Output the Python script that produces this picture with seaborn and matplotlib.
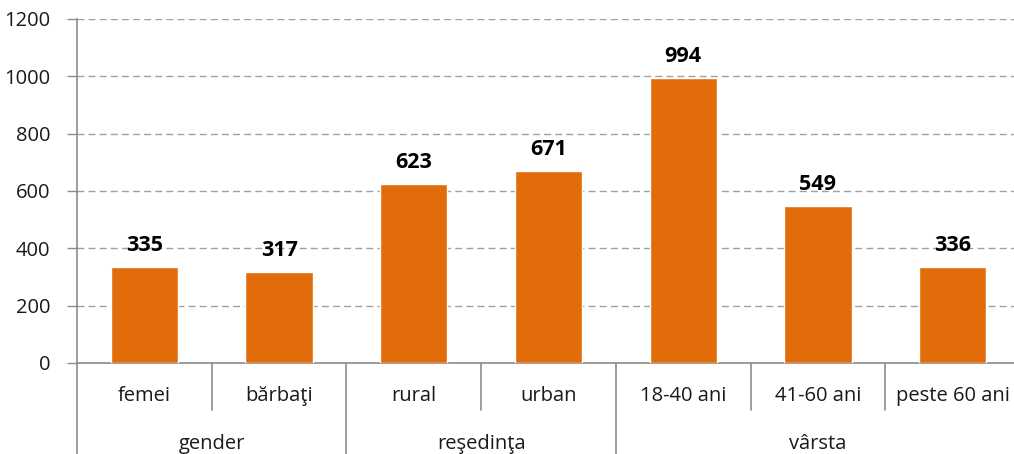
import matplotlib
matplotlib.use("Agg")
import matplotlib.pyplot as plt
import seaborn as sns

################ DATA ################
categories = ["femei", "bărbaţi", "rural", "urban", "18-40 ani", "41-60 ani", "peste 60 ani"]
values = [335, 317, 623, 671, 994, 549, 336]
groups = ["gender", "reşedinţa", "vârsta"]
group_sizes = [2, 2, 3]
y_ticks = [0, 200, 400, 600, 800, 1000, 1200]

################ STYLE ################
sns.set_style("white")
plt.rcParams['font.family'] = ['Open Sans', 'DejaVu Sans']

bar_color = "#E36C0A"
axis_gray = "#8C8C8C"
W, H = 1014, 454

fig = plt.figure(figsize=(W / 100, H / 100), dpi=100)
# plot area in pixels: x 77..1020, y 19..363
ax_h_px = 363 - 19
ax = fig.add_axes([77 / W, (H - 363) / H, 943 / W, ax_h_px / H])

sns.barplot(x=categories, y=values, color=bar_color, width=0.5,
            saturation=1, ax=ax, zorder=3)

ax.set_xlim(-0.5, len(categories) - 0.5)
ax.set_ylim(0, 1200)
ax.set_yticks(y_ticks)
ax.tick_params(axis='y', labelsize=14.5, length=7, width=1, color=axis_gray,
               pad=12, direction='out', left=True, labelcolor='#1A1A1A')
ax.set_xticks([])
ax.set_xlabel("")
ax.set_ylabel("")

ax.yaxis.grid(True, linestyle=(0, (5, 3)), color="#A0A0A0", linewidth=1, zorder=0)
ax.set_axisbelow(True)

for s in ['top', 'right']:
    ax.spines[s].set_visible(False)
for s in ['left', 'bottom']:
    ax.spines[s].set_color(axis_gray)
    ax.spines[s].set_linewidth(1.2)

# value labels
ax.bar_label(ax.containers[0], fmt="%d", padding=8, fontsize=15.5,
             fontweight='bold', color='black')

# two-level category axis
tr = ax.get_xaxis_transform()
px = 1.0 / ax_h_px
for i, cat in enumerate(categories):
    ax.text(i, -33 * px, cat, transform=tr, ha='center', va='center',
            fontsize=14.5, color='#1A1A1A')

# inner separators (short)
start = 0
bounds = []
for size in group_sizes:
    for k in range(1, size):
        ax.plot([start + k - 0.5] * 2, [0, -47 * px], transform=tr,
                color=axis_gray, lw=1.2, clip_on=False)
    bounds.append(start - 0.5)
    start += size
bounds.append(start - 0.5)

# group separators (long) and group labels
for b in bounds:
    ax.plot([b, b], [0, -100 * px], transform=tr, color=axis_gray,
            lw=1.2, clip_on=False)

start = 0
for g, size in zip(groups, group_sizes):
    ax.text(start + (size - 1) / 2, -81 * px, g, transform=tr, ha='center',
            va='center', fontsize=14.5, color='#1A1A1A')
    start += size

fig.savefig("out.png", dpi=100)
